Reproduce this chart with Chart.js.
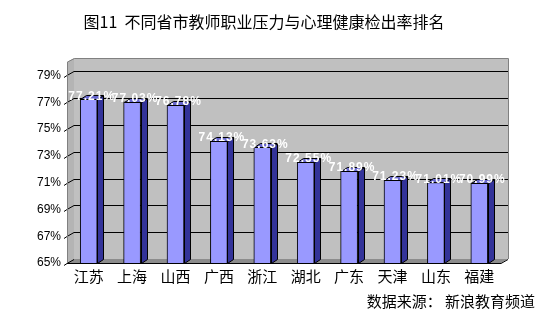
<!DOCTYPE html>
<html>
<head>
<meta charset="utf-8">
<script src="https://cdn.jsdelivr.net/npm/chart.js@4.4.0/dist/chart.umd.min.js"></script>
<style>
  body { margin: 0; background: #fff; }
</style>
</head>
<body>
<canvas id="bar-chart" width="545" height="322"></canvas>
<script>
// data
const provinces = ["江苏", "上海", "山西", "广西", "浙江", "湖北", "广东", "天津", "山东", "福建"];
const rates = [77.21, 77.03, 76.78, 74.13, 73.63, 72.55, 71.89, 71.23, 71.01, 70.99];
const yTicks = [65, 67, 69, 71, 73, 75, 77, 79];
const chartTitle = "图11  不同省市教师职业压力与心理健康检出率排名";
const sourceNote = "数据来源： 新浪教育频道";

const DX = 7, DY = -4; // depth of the 3d box

// walls, floor and gridlines behind the bars
const walls = {
  id: 'walls',
  beforeDatasetsDraw(chart) {
    const { ctx, chartArea: a, scales: { y } } = chart;
    ctx.save();
    // back wall
    ctx.fillStyle = '#c0c0c0';
    ctx.fillRect(a.left + DX, a.top + DY, a.right - a.left, a.bottom - a.top);
    // left wall
    ctx.fillStyle = '#b4b4b4';
    ctx.beginPath();
    ctx.moveTo(a.left, a.top);
    ctx.lineTo(a.left + DX, a.top + DY);
    ctx.lineTo(a.left + DX, a.bottom + DY);
    ctx.lineTo(a.left, a.bottom);
    ctx.closePath();
    ctx.fill();
    // floor
    ctx.fillStyle = '#8c8c8c';
    ctx.beginPath();
    ctx.moveTo(a.left, a.bottom);
    ctx.lineTo(a.left + DX, a.bottom + DY);
    ctx.lineTo(a.right + DX, a.bottom + DY);
    ctx.lineTo(a.right, a.bottom);
    ctx.closePath();
    ctx.fill();
    // grid lines
    ctx.strokeStyle = '#000';
    ctx.lineWidth = 1;
    yTicks.forEach(v => {
      const py = Math.round(y.getPixelForValue(v)) + 0.5;
      ctx.beginPath();
      ctx.moveTo(a.left - 3, py + 2);
      ctx.lineTo(a.left, py);
      ctx.lineTo(a.left + DX, py + DY);
      if (v > 65) ctx.lineTo(a.right + DX, py + DY);
      ctx.stroke();
    });
    // outline of walls
    ctx.strokeStyle = '#808080';
    ctx.beginPath();
    ctx.moveTo(a.left + 0.5, a.bottom);
    ctx.lineTo(a.left + 0.5, a.top);
    ctx.lineTo(a.left + DX + 0.5, a.top + DY + 0.5);
    ctx.lineTo(a.right + DX + 0.5, a.top + DY + 0.5);
    ctx.lineTo(a.right + DX + 0.5, a.bottom + DY);
    ctx.stroke();
    ctx.strokeStyle = '#000';
    ctx.beginPath();
    ctx.moveTo(a.left, a.bottom + 0.5);
    ctx.lineTo(a.right, a.bottom + 0.5);
    ctx.lineTo(a.right + DX, a.bottom + DY + 0.5);
    ctx.stroke();
    ctx.restore();
  }
};

// side and top faces plus value labels
const boxes = {
  id: 'boxes',
  afterDatasetsDraw(chart) {
    const { ctx, chartArea: a } = chart;
    const meta = chart.getDatasetMeta(0);
    ctx.save();
    ctx.strokeStyle = '#000';
    ctx.lineWidth = 1;
    meta.data.forEach(bar => {
      const half = bar.width / 2;
      const l = Math.round(bar.x - half) + 0.5, r = Math.round(bar.x + half) + 0.5;
      const t = Math.round(bar.y) + 0.5, b = Math.round(a.bottom) + 0.5;
      ctx.fillStyle = '#333399';
      ctx.beginPath();
      ctx.moveTo(r, t);
      ctx.lineTo(r + DX - 1, t + DY);
      ctx.lineTo(r + DX - 1, b + DY);
      ctx.lineTo(r, b);
      ctx.closePath();
      ctx.fill();
      ctx.stroke();
      ctx.fillStyle = '#6666cc';
      ctx.beginPath();
      ctx.moveTo(l, t);
      ctx.lineTo(l + DX - 1, t + DY);
      ctx.lineTo(r + DX - 1, t + DY);
      ctx.lineTo(r, t);
      ctx.closePath();
      ctx.fill();
      ctx.stroke();
    });
    ctx.fillStyle = '#fff';
    ctx.font = 'bold 12px "Liberation Sans", Arial, sans-serif';
    ctx.letterSpacing = '1px';
    ctx.textAlign = 'center';
    ctx.textBaseline = 'middle';
    meta.data.forEach((bar, i) => {
      ctx.fillText(rates[i].toFixed(2) + '%', bar.x + 3, bar.y - 3);
    });
    ctx.restore();
  }
};

// title and source line
const texts = {
  id: 'texts',
  afterDraw(chart) {
    const { ctx } = chart;
    ctx.save();
    ctx.fillStyle = '#000';
    ctx.textBaseline = 'middle';
    ctx.textAlign = 'center';
    ctx.font = '16px "Noto Sans CJK SC", sans-serif';
    ctx.fillText(chartTitle, 264, 22);
    ctx.textAlign = 'right';
    ctx.font = '15px "Noto Sans CJK SC", sans-serif';
    ctx.fillText(sourceNote, 535, 301);
    ctx.restore();
  }
};

new Chart(document.getElementById("bar-chart"), {
  type: 'bar',
  data: {
    labels: provinces,
    datasets: [{
      label: "检出率",
      data: rates,
      backgroundColor: "#9999ff",
      borderColor: "#000",
      borderWidth: 1,
      barThickness: 17
    }]
  },
  options: {
    responsive: false,
    animation: false,
    layout: { padding: { top: 62, right: 44, bottom: 29, left: 0 } },
    plugins: {
      legend: { display: false },
      title: { display: false },
      tooltip: { enabled: false }
    },
    scales: {
      x: {
        grid: { display: false, drawTicks: false },
        border: { display: false },
        ticks: {
          color: '#000',
          padding: 4,
          font: { size: 15, family: '"Noto Sans CJK SC", sans-serif' }
        },
        afterFit(scale) { scale.height = 30; }
      },
      y: {
        min: 65,
        max: 80,
        grid: { display: false, drawTicks: false },
        border: { display: false },
        afterBuildTicks(scale) { scale.ticks = yTicks.map(v => ({ value: v })); },
        ticks: {
          color: '#000',
          padding: 6,
          font: { size: 12, family: '"Liberation Sans", Arial, sans-serif' },
          callback: v => v + '%'
        },
        afterFit(scale) { scale.width = 67; }
      }
    }
  },
  plugins: [walls, boxes, texts]
});
</script>
</body>
</html>
